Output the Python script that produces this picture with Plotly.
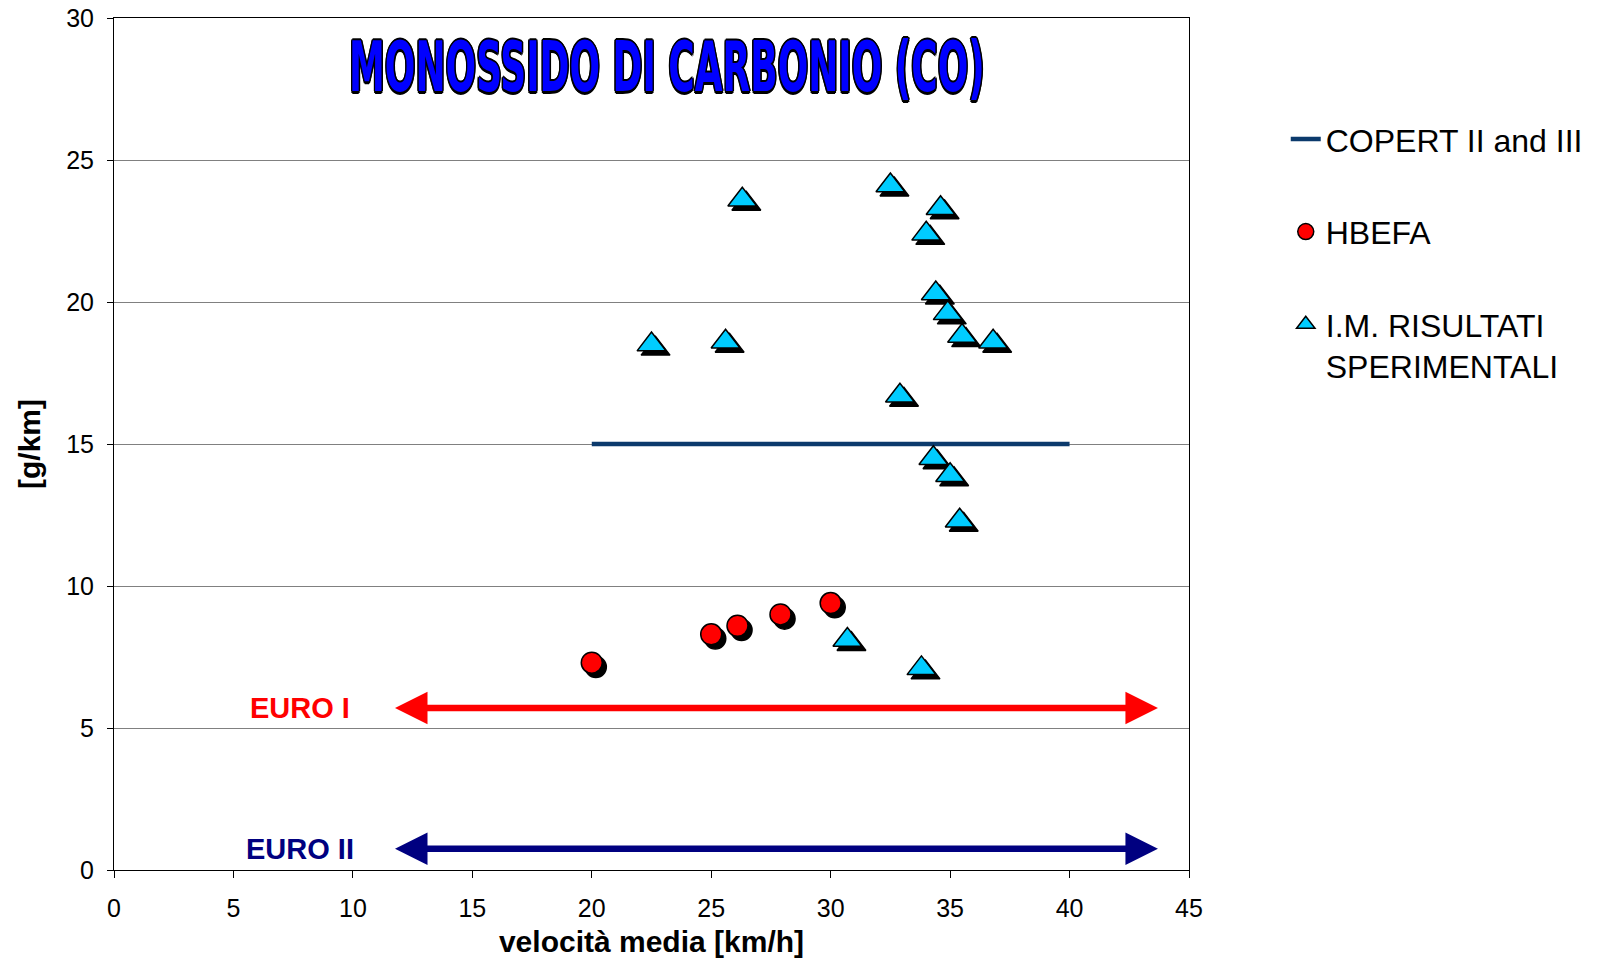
import plotly.graph_objects as go

# Average speed [km/h] and CO emission factor [g/km]
copert_speed = [20, 40]
copert_co = [15, 15]

hbefa_speed = [20.0, 25.0, 26.1, 27.9, 30.0]
hbefa_co = [7.3, 8.3, 8.6, 9.0, 9.4]

im_speed = [22.5, 25.6, 26.3, 32.5, 34.6, 34.0, 34.4, 34.9, 35.5, 36.8,
            32.9, 34.3, 35.0, 35.4, 30.7, 33.8]
im_co = [18.5, 18.6, 23.6, 24.1, 23.3, 22.4, 20.3, 19.6, 18.8, 18.6,
         16.7, 14.5, 13.9, 12.3, 8.1, 7.1]

# Range covered by the Euro limit arrows
euro_labels = ["EURO I", "EURO II"]
euro_levels = [5.7, 0.75]
euro_span = [11.7, 43.7]
euro_colors = ["#ff0000", "#000080"]

X_MAX, Y_MAX = 45, 30
FONT = "Liberation Sans, Arial, sans-serif"

# drop shadow offset of the markers, in axis units (~4 px)
SH_DX = 0.17
SH_DY = 0.15

fig = go.Figure()

fig.add_trace(go.Scatter(
    x=copert_speed, y=copert_co, mode="lines",
    name="COPERT II and III",
    line=dict(color="#0b3a6c", width=4.5),
    legendgroup="a",
))

fig.add_trace(go.Scatter(
    x=[v + SH_DX for v in hbefa_speed], y=[v - SH_DY for v in hbefa_co],
    mode="markers", showlegend=False, hoverinfo="skip",
    marker=dict(symbol="circle", size=21, color="black",
                line=dict(color="black", width=1.5)),
))
fig.add_trace(go.Scatter(
    x=hbefa_speed, y=hbefa_co, mode="markers", name="HBEFA",
    marker=dict(symbol="circle", size=21, color="#ff0000",
                line=dict(color="black", width=1.5)),
    legendgroup="b",
))

fig.add_trace(go.Scatter(
    x=[v + SH_DX for v in im_speed], y=[v - SH_DY for v in im_co],
    mode="markers", showlegend=False, hoverinfo="skip",
    marker=dict(symbol="triangle-up", size=25, color="black",
                line=dict(color="black", width=1.5)),
))
fig.add_trace(go.Scatter(
    x=im_speed, y=im_co, mode="markers",
    name="I.M. RISULTATI<br>SPERIMENTALI",
    marker=dict(symbol="triangle-up", size=25, color="#00ccff",
                line=dict(color="black", width=1.5)),
    legendgroup="c",
))

annotations = []
for lab, lev, col in zip(euro_labels, euro_levels, euro_colors):
    annotations.append(dict(
        x=euro_span[1], y=lev, ax=euro_span[0], ay=lev,
        xref="x", yref="y", axref="x", ayref="y",
        text="", showarrow=True, arrowside="end+start",
        arrowhead=2, startarrowhead=2, arrowsize=1.0, startarrowsize=1.0,
        arrowwidth=6.5, arrowcolor=col, standoff=0, startstandoff=0,
    ))
    annotations.append(dict(
        x=7.8, y=lev, xref="x", yref="y", text=lab, showarrow=False,
        font=dict(family=FONT, size=29, color=col, weight="bold"),
    ))

outline = ", ".join(f"{dx}px {dy}px 0 #000" for dx, dy in
                    [(2, 0), (-2, 0), (0, 2), (0, -2),
                     (1.5, 1.5), (-1.5, -1.5), (1.5, -1.5), (-1.5, 1.5)])
annotations.append(dict(
    x=0.514, y=0.972, xref="paper", yref="paper",
    text="MONOSSIDO DI CARBONIO (CO)", showarrow=False,
    font=dict(family="DejaVu Sans Condensed, Liberation Sans Narrow, sans-serif",
              size=40, color="#0000ff", weight="bold", shadow=outline),
))

fig.update_layout(
    width=1601, height=960,
    paper_bgcolor="white", plot_bgcolor="white",
    margin=dict(l=114, r=412, t=18, b=90, autoexpand=False),
    font=dict(family=FONT, size=24, color="black"),
    showlegend=True,
    legend=dict(
        x=1.09, y=0.89, xanchor="left", yanchor="top",
        font=dict(family=FONT, size=32, color="black"),
        tracegroupgap=48, valign="top", bgcolor="rgba(0,0,0,0)",
    ),
    annotations=annotations,
)

fig.update_xaxes(
    range=[0, X_MAX], dtick=5, tick0=0,
    showgrid=False, zeroline=False,
    showline=True, linecolor="black", linewidth=1, mirror=True,
    ticks="outside", ticklen=7, tickcolor="black", ticklabelstandoff=9,
    tickfont=dict(family=FONT, size=25),
    title=dict(text="velocità media [km/h]", standoff=9,
               font=dict(family=FONT, size=30, weight="bold")),
)
fig.update_yaxes(
    range=[0, Y_MAX], dtick=5, tick0=0,
    showgrid=True, gridcolor="#808080", gridwidth=1, zeroline=False,
    showline=True, linecolor="black", linewidth=1, mirror=True,
    ticks="outside", ticklen=6, tickcolor="black", ticklabelstandoff=8,
    tickfont=dict(family=FONT, size=25),
    title=dict(text="[g/km]", standoff=16,
               font=dict(family=FONT, size=30, weight="bold")),
)

# stretch the heading vertically into a tall, condensed display face
stretch_js = """
var t = document.querySelector('g.annotation[data-index="4"] text');
if (t) {
  var b = t.getBBox();
  var cx = b.x + b.width / 2, cy = b.y + b.height / 2;
  var prev = t.getAttribute('transform') || '';
  t.setAttribute('transform', prev + ' translate(' + cx + ',' + cy + ') scale(1,1.75) translate(' + (-cx) + ',' + (-cy) + ')');
}
"""

fig.write_html("out.html", post_script=stretch_js)
